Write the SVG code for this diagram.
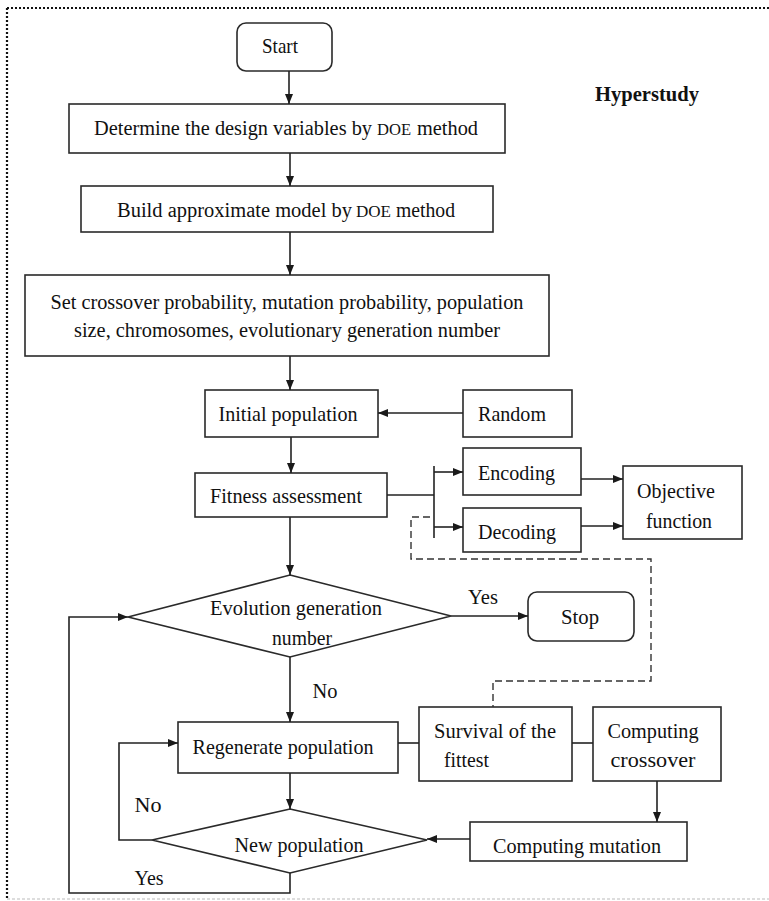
<svg xmlns="http://www.w3.org/2000/svg" width="769" height="901" viewBox="0 0 769 901">
<defs>
<marker id="arr" viewBox="0 0 10 10" refX="10" refY="5" markerWidth="10" markerHeight="10" markerUnits="userSpaceOnUse" orient="auto">
<path d="M0,1 L10,5 L0,9 Z" fill="#1a1a1a"/>
</marker>
<style>
.box{fill:#fff;stroke:#2a2a2a;stroke-width:1.6}
.t{font-family:'Liberation Serif','Times New Roman',serif;font-size:21px;fill:#111;text-anchor:middle}
.tl{font-family:'Liberation Serif','Times New Roman',serif;font-size:21px;fill:#111;text-anchor:start}
.s20{font-size:20px}
.sc{font-size:16px}
.ln{fill:none;stroke:#222;stroke-width:1.6}
.arrow{fill:none;stroke:#222;stroke-width:1.6;marker-end:url(#arr)}
.dash{fill:none;stroke:#333;stroke-width:1.4;stroke-dasharray:7 4}
</style>
</defs>
<rect width="769" height="901" fill="#fff"/>
<g id="frame">
<line x1="7" y1="8" x2="769" y2="8" stroke="#111" stroke-width="2.2" stroke-dasharray="2 2"/>
<line x1="7" y1="8" x2="7" y2="899" stroke="#111" stroke-width="2.2" stroke-dasharray="2 2"/>
<line x1="7" y1="899" x2="769" y2="899" stroke="#bbb" stroke-width="1.2" stroke-dasharray="3 2"/>
</g>
<text class="t" x="647" y="101" font-weight="bold" textLength="104" lengthAdjust="spacingAndGlyphs">Hyperstudy</text>
<g id="start"><rect class="box" x="237" y="23" width="95" height="48" rx="9"/><text class="t" x="280" y="53" textLength="36" lengthAdjust="spacingAndGlyphs">Start</text></g>
<g id="determine"><rect class="box" x="69" y="104" width="436" height="49"/><text class="tl s20" x="94" y="135" textLength="278" lengthAdjust="spacingAndGlyphs">Determine the design variables by</text><text class="tl sc" x="377" y="135" textLength="34" lengthAdjust="spacingAndGlyphs">DOE</text><text class="tl s20" x="417" y="135" textLength="61" lengthAdjust="spacingAndGlyphs">method</text></g>
<g id="build"><rect class="box" x="81" y="186" width="412" height="46"/><text class="tl s20" x="117" y="217" textLength="235" lengthAdjust="spacingAndGlyphs">Build approximate model by</text><text class="tl sc" x="356" y="217" textLength="35" lengthAdjust="spacingAndGlyphs">DOE</text><text class="tl s20" x="396" y="217" textLength="59" lengthAdjust="spacingAndGlyphs">method</text></g>
<g id="setparams"><rect class="box" x="25" y="275" width="524" height="81"/><text class="t" x="287" y="309" textLength="473" lengthAdjust="spacingAndGlyphs">Set crossover probability, mutation probability, population</text><text class="t" x="287" y="337" textLength="426" lengthAdjust="spacingAndGlyphs">size, chromosomes, evolutionary generation number</text></g>
<g id="initial"><rect class="box" x="205" y="390" width="173" height="47"/><text class="t" x="288" y="421" textLength="139" lengthAdjust="spacingAndGlyphs">Initial population</text></g>
<g id="random"><rect class="box" x="463" y="390" width="109" height="47"/><text class="t" x="512" y="421" textLength="68" lengthAdjust="spacingAndGlyphs">Random</text></g>
<g id="fitness"><rect class="box" x="195" y="473" width="192" height="44"/><text class="t" x="286" y="503" textLength="152" lengthAdjust="spacingAndGlyphs">Fitness assessment</text></g>
<g id="encoding"><rect class="box" x="463" y="448" width="118" height="47"/><text class="tl" x="478" y="480" textLength="77" lengthAdjust="spacingAndGlyphs">Encoding</text></g>
<g id="decoding"><rect class="box" x="463" y="508" width="118" height="44"/><text class="tl" x="478" y="539" textLength="78" lengthAdjust="spacingAndGlyphs">Decoding</text></g>
<g id="objective"><rect class="box" x="623" y="466" width="119" height="73"/><text class="t" x="676" y="498" textLength="78" lengthAdjust="spacingAndGlyphs">Objective</text><text class="t" x="679" y="528" textLength="66" lengthAdjust="spacingAndGlyphs">function</text></g>
<g id="evolution"><polygon class="box" points="290,575 451,616 290,657 128,617"/><text class="t" x="296" y="615" textLength="172" lengthAdjust="spacingAndGlyphs">Evolution  generation</text><text class="t" x="302" y="645" textLength="60" lengthAdjust="spacingAndGlyphs">number</text></g>
<g id="stop"><rect class="box" x="528" y="592" width="106" height="49" rx="9"/><text class="t" x="580" y="624" textLength="38" lengthAdjust="spacingAndGlyphs">Stop</text></g>
<g id="regenerate"><rect class="box" x="178" y="722" width="220" height="51"/><text class="t" x="283" y="754" textLength="181" lengthAdjust="spacingAndGlyphs">Regenerate population</text></g>
<g id="survival"><rect class="box" x="419" y="707" width="153" height="74"/><text class="tl" x="434" y="738" textLength="122" lengthAdjust="spacingAndGlyphs">Survival of the</text><text class="tl" x="444" y="767" textLength="45" lengthAdjust="spacingAndGlyphs">fittest</text></g>
<g id="crossover"><rect class="box" x="593" y="707" width="128" height="74"/><text class="t" x="653" y="738" textLength="91" lengthAdjust="spacingAndGlyphs">Computing</text><text class="t" x="653" y="767" textLength="85" lengthAdjust="spacingAndGlyphs">crossover</text></g>
<g id="newpop"><polygon class="box" points="290,809 427,840 290,873 152,840"/><text class="t" x="299" y="852" textLength="129" lengthAdjust="spacingAndGlyphs">New population</text></g>
<g id="mutation"><rect class="box" x="470" y="822" width="217" height="39"/><text class="t" x="577" y="853" textLength="168" lengthAdjust="spacingAndGlyphs">Computing mutation</text></g>
<g id="connectors">
<line class="arrow" x1="289" y1="71" x2="289" y2="104"/>
<line class="arrow" x1="290" y1="153" x2="290" y2="186"/>
<line class="arrow" x1="290" y1="232" x2="290" y2="275"/>
<line class="arrow" x1="290" y1="356" x2="290" y2="390"/>
<line class="arrow" x1="463" y1="413" x2="378" y2="413"/>
<line class="arrow" x1="291" y1="437" x2="291" y2="473"/>
<line class="ln" x1="387" y1="495" x2="434" y2="495"/>
<line class="ln" x1="434" y1="466" x2="434" y2="538"/>
<line class="arrow" x1="434" y1="472" x2="463" y2="472"/>
<line class="arrow" x1="434" y1="527" x2="463" y2="527"/>
<line class="arrow" x1="581" y1="479" x2="623" y2="479"/>
<line class="arrow" x1="581" y1="526" x2="623" y2="526"/>
<line class="arrow" x1="290" y1="517" x2="290" y2="575"/>
<line class="arrow" x1="451" y1="616" x2="528" y2="616"/>
<line class="arrow" x1="290" y1="657" x2="290" y2="722"/>
<line class="ln" x1="398" y1="743" x2="419" y2="743"/>
<line class="ln" x1="572" y1="743" x2="593" y2="743"/>
<line class="arrow" x1="657" y1="781" x2="657" y2="822"/>
<line class="arrow" x1="470" y1="839" x2="427" y2="839"/>
<line class="arrow" x1="290" y1="773" x2="290" y2="809"/>
<polyline class="arrow" points="152,840 119,840 119,743 178,743"/>
<polyline class="arrow" points="290,873 290,893 69,893 69,617 128,617"/>
<polyline class="dash" points="430,517 411,517 411,559 651,559 651,681 493,681 493,707"/>
<text class="t" x="483" y="604" textLength="30" lengthAdjust="spacingAndGlyphs">Yes</text>
<text class="t" x="325" y="698" textLength="25" lengthAdjust="spacingAndGlyphs">No</text>
<text class="t" x="148" y="812" textLength="27" lengthAdjust="spacingAndGlyphs">No</text>
<text class="t" x="149" y="885" textLength="29" lengthAdjust="spacingAndGlyphs">Yes</text>
</g>
</svg>
